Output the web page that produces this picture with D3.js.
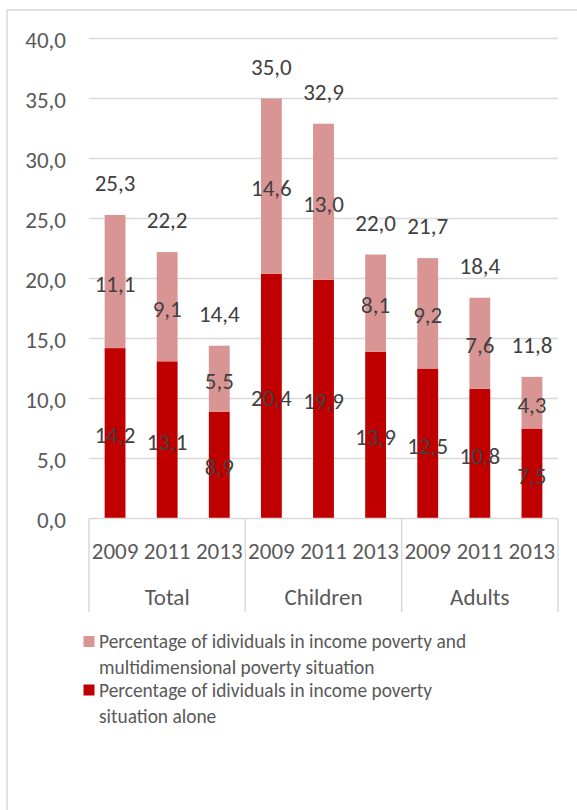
<!DOCTYPE html>
<html>
<head>
<meta charset="utf-8">
<script src="https://cdn.jsdelivr.net/npm/d3@7"></script>
<style>
  html, body { margin: 0; padding: 0; background: #fff; }
  svg { display: block; }
  text { font-family: Carlito, Calibri, "Open Sans", sans-serif; }
</style>
</head>
<body>
<svg id="chart" width="577" height="810"></svg>
<script>
const groups = ["Total", "Children", "Adults"];
const years = ["2009", "2011", "2013"];
const aloneValues = [14.2, 13.1, 8.9, 20.4, 19.9, 13.9, 12.5, 10.8, 7.5];
const multiValues = [11.1, 9.1, 5.5, 14.6, 13.0, 8.1, 9.2, 7.6, 4.3];
const totalValues = [25.3, 22.2, 14.4, 35.0, 32.9, 22.0, 21.7, 18.4, 11.8];
const yTicks = [0, 5, 10, 15, 20, 25, 30, 35, 40];
const legendLabels = [
  ["Percentage of idividuals in income poverty and", "multidimensional poverty situation"],
  ["Percentage of idividuals in income poverty", "situation alone"]
];
const colorMulti = "#d99594";
const colorAlone = "#c00000";

const fmt = v => d3.format(".1f")(v).replace(".", ",");

const rows = [];
groups.forEach((g, gi) => years.forEach((yr, yi) => {
  const i = gi * years.length + yi;
  rows.push({ key: i, group: g, year: yr, alone: aloneValues[i], multi: multiValues[i], total: totalValues[i] });
}));

const svg = d3.select("#chart");
const FS = 23;

// outer chart border
svg.append("rect").attr("x", 7).attr("y", 10).attr("width", 640).attr("height", 900)
  .attr("fill", "#fff").attr("stroke", "#d9d9d9").attr("stroke-width", 1.5);

const plotLeft = 89, plotRight = 558, plotTop = 38.5, plotBottom = 518.5;

const x = d3.scaleBand().domain(rows.map(d => d.key)).range([plotLeft, plotRight])
  .paddingInner(0.6).paddingOuter(0.3);
const y = d3.scaleLinear().domain([0, 40]).range([plotBottom, plotTop]);

// gridlines
svg.append("g").selectAll("line").data(yTicks.filter(t => t > 0)).join("line")
  .attr("x1", plotLeft).attr("x2", plotRight)
  .attr("y1", d => y(d)).attr("y2", d => y(d))
  .attr("stroke", "#d9d9d9").attr("stroke-width", 1.3);

// y tick labels
svg.append("g").selectAll("text").data(yTicks).join("text")
  .attr("x", 66).attr("y", d => y(d) + 1.5)
  .attr("text-anchor", "end").attr("dominant-baseline", "central")
  .attr("fill", "#595959").attr("font-size", FS)
  .text(d => fmt(d));

// stacked bars
const stack = d3.stack().keys(["alone", "multi"]);
const series = stack(rows);
const colors = { alone: colorAlone, multi: colorMulti };
svg.append("g").selectAll("g").data(series).join("g")
  .attr("fill", s => colors[s.key])
  .selectAll("rect").data(s => s).join("rect")
  .attr("x", d => x(d.data.key))
  .attr("width", x.bandwidth())
  .attr("y", d => y(d[1]))
  .attr("height", d => y(d[0]) - y(d[1]));

// segment labels
series.forEach(s => {
  svg.append("g").selectAll("text").data(s).join("text")
    .attr("x", d => x(d.data.key) + x.bandwidth() / 2)
    .attr("y", d => y((d[0] + d[1]) / 2) + 2)
    .attr("text-anchor", "middle").attr("dominant-baseline", "central")
    .attr("fill", "#404040").attr("font-size", FS)
    .text(d => fmt(d.data[s.key]));
});

// total labels
svg.append("g").selectAll("text").data(rows).join("text")
  .attr("x", d => x(d.key) + x.bandwidth() / 2)
  .attr("y", d => y(d.total) - 32)
  .attr("text-anchor", "middle").attr("dominant-baseline", "central")
  .attr("fill", "#404040").attr("font-size", FS)
  .text(d => fmt(d.total));

// x axis line
svg.append("line").attr("x1", plotLeft).attr("x2", plotRight).attr("y1", plotBottom).attr("y2", plotBottom)
  .attr("stroke", "#d9d9d9").attr("stroke-width", 1.5);

// group separators
const gap = (x.step() - x.bandwidth()) / 2;
const sepXs = [plotLeft, x(3) - gap, x(6) - gap, plotRight];
svg.append("g").selectAll("line").data(sepXs).join("line")
  .attr("x1", d => d).attr("x2", d => d).attr("y1", plotBottom).attr("y2", 612)
  .attr("stroke", "#d9d9d9").attr("stroke-width", 1.5);

// year labels
svg.append("g").selectAll("text").data(rows).join("text")
  .attr("x", d => x(d.key) + x.bandwidth() / 2)
  .attr("y", 551)
  .attr("text-anchor", "middle").attr("dominant-baseline", "central")
  .attr("fill", "#595959").attr("font-size", FS)
  .text(d => d.year);

// group labels
svg.append("g").selectAll("text").data(groups).join("text")
  .attr("x", (d, i) => (sepXs[i] + sepXs[i + 1]) / 2)
  .attr("y", 597)
  .attr("text-anchor", "middle").attr("dominant-baseline", "central")
  .attr("fill", "#595959").attr("font-size", FS)
  .text(d => d);

// legend
const legendColors = [colorMulti, colorAlone];
const legendTop = [641.5, 690];
legendLabels.forEach((lines, li) => {
  svg.append("rect").attr("x", 83.5).attr("y", legendTop[li] - 5.5)
    .attr("width", 11).attr("height", 11).attr("fill", legendColors[li]);
  svg.append("g").selectAll("text").data(lines).join("text")
    .attr("x", 99).attr("y", (d, j) => legendTop[li] + j * 26)
    .attr("dominant-baseline", "central")
    .attr("fill", "#595959").attr("font-size", 19.4)
    .text(d => d);
});
</script>
</body>
</html>
